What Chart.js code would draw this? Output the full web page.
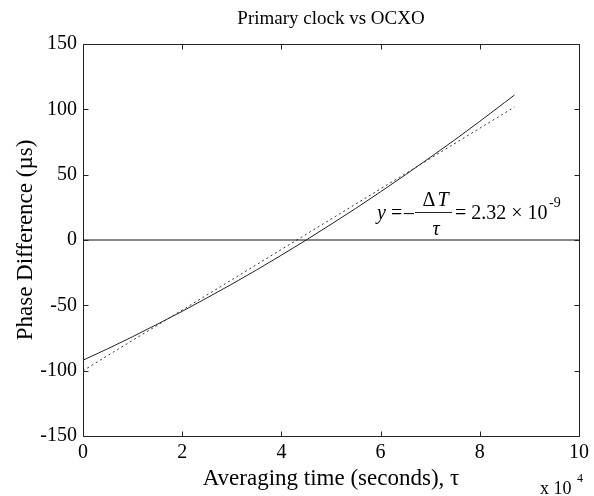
<!DOCTYPE html>
<html><head><meta charset="utf-8">
<script src="https://cdn.jsdelivr.net/npm/chart.js@4.4.1/dist/chart.umd.min.js"></script>
<style>html,body{margin:0;padding:0;background:#fff}</style>
</head><body>
<canvas id="c" width="594" height="496"></canvas>
<script>
const titleText = 'Primary clock vs OCXO';
const xTicks = [0, 2, 4, 6, 8, 10];
const yTicks = [-150, -100, -50, 0, 50, 100, 150];
// measured phase difference (x in units of 1e4 s, y in µs)
const measuredX = [0, 0.5, 1, 1.5, 2, 2.5, 3, 3.5, 4, 4.5, 5, 5.5, 6, 6.5, 7, 7.5, 8, 8.5, 8.7];
const measuredY = [-92, -83.2, -74.0, -64.4, -54.6, -44.3, -33.8, -22.9, -11.6, 0, 12.0, 24.2, 36.9, 49.9, 63.2, 76.8, 90.8, 105.2, 111];
// linear fit
const fitX = [0, 8.7];
const fitY = [-100, 101.8];
// zero reference
const zeroX = [0, 10];
const zeroY = [0, 0];

const SERIF = '"Liberation Serif", "Times New Roman", serif';
const pts = (xs, ys) => xs.map((x, i) => ({x, y: ys[i]}));

const framePlugin = {
  id: 'frame',
  afterDraw(chart) {
    const {ctx, chartArea: a, scales: {x, y}} = chart;
    ctx.save();
    ctx.strokeStyle = '#222';
    ctx.lineWidth = 1;
    ctx.beginPath();
    const L = Math.round(a.left) + 0.5, R = Math.round(a.right) + 0.5, T = Math.round(a.top) + 0.5, B = Math.round(a.bottom) + 0.5;
    ctx.rect(L, T, R - L, B - T);
    const tl = 5;
    xTicks.forEach(v => {
      const px = Math.round(x.getPixelForValue(v)) + 0.5;
      ctx.moveTo(px, B); ctx.lineTo(px, B - tl);
      ctx.moveTo(px, T); ctx.lineTo(px, T + tl);
    });
    yTicks.forEach(v => {
      const py = Math.round(y.getPixelForValue(v)) + 0.5;
      ctx.moveTo(L, py); ctx.lineTo(L + tl, py);
      ctx.moveTo(R, py); ctx.lineTo(R - tl, py);
    });
    ctx.stroke();

    ctx.fillStyle = '#000';
    ctx.textBaseline = 'alphabetic';
    // title
    ctx.font = '19px ' + SERIF;
    ctx.textAlign = 'center';
    ctx.fillText(titleText, (a.left + a.right) / 2, 24);
    // exponent label
    ctx.textAlign = 'left';
    ctx.font = '18px ' + SERIF;
    ctx.fillText('x 10', 540, 494);
    ctx.font = '12px ' + SERIF;
    ctx.fillText('4', 577, 482);
    // equation
    ctx.font = 'italic 20px ' + SERIF;
    ctx.fillText('y', 377, 219);
    ctx.font = '20px ' + SERIF;
    ctx.fillText('=', 391, 219);
    ctx.fillText('\u2013', 404, 219);
    ctx.textAlign = 'center';
    ctx.fillText('\u0394', 429, 206);
    ctx.font = 'italic 20px ' + SERIF;
    ctx.fillText('T', 443, 206);
    ctx.fillText('\u03C4', 436, 235);
    ctx.beginPath();
    ctx.moveTo(415, 212.5); ctx.lineTo(452, 212.5);
    ctx.stroke();
    ctx.textAlign = 'left';
    ctx.font = '20px ' + SERIF;
    ctx.fillText('= 2.32 \u00D7 10', 455, 219);
    ctx.font = '14px ' + SERIF;
    ctx.fillText('-9', 549, 207);
    ctx.restore();
  }
};

new Chart(document.getElementById('c'), {
  type: 'line',
  data: {
    datasets: [
      {data: pts(zeroX, zeroY), borderColor: '#111', borderWidth: 1, pointRadius: 0},
      {data: pts(fitX, fitY), borderColor: '#333', borderWidth: 1, borderDash: [2, 3], pointRadius: 0},
      {data: pts(measuredX, measuredY), borderColor: '#222', borderWidth: 1, pointRadius: 0}
    ]
  },
  options: {
    responsive: false,
    animation: false,
    layout: {padding: {top: 44, right: 13, bottom: 0, left: 0}},
    plugins: {legend: {display: false}, tooltip: {enabled: false}, title: {display: false}},
    scales: {
      x: {
        type: 'linear', min: 0, max: 10,
        afterBuildTicks: s => { s.ticks = xTicks.map(v => ({value: v})); },
        afterFit: s => { s.height = 60; },
        grid: {display: false, drawTicks: false, tickLength: 0}, border: {display: false},
        ticks: {color: '#000', font: {family: SERIF, size: 20}, padding: 5, maxRotation: 0},
        title: {display: true, text: 'Averaging time (seconds), \u03C4', color: '#000', font: {family: SERIF, size: 23}, padding: {top: 0, bottom: 3}}
      },
      y: {
        type: 'linear', min: -150, max: 150,
        afterBuildTicks: s => { s.ticks = yTicks.map(v => ({value: v})); },
        afterFit: s => { s.width = 83; },
        grid: {display: false, drawTicks: false, tickLength: 0}, border: {display: false},
        ticks: {color: '#000', font: {family: SERIF, size: 20}, padding: 6},
        title: {display: true, text: 'Phase Difference (\u00B5s)', color: '#000', font: {family: SERIF, size: 23}, padding: {top: 12, bottom: 0}}
      }
    }
  },
  plugins: [framePlugin]
});
</script>
</body></html>
